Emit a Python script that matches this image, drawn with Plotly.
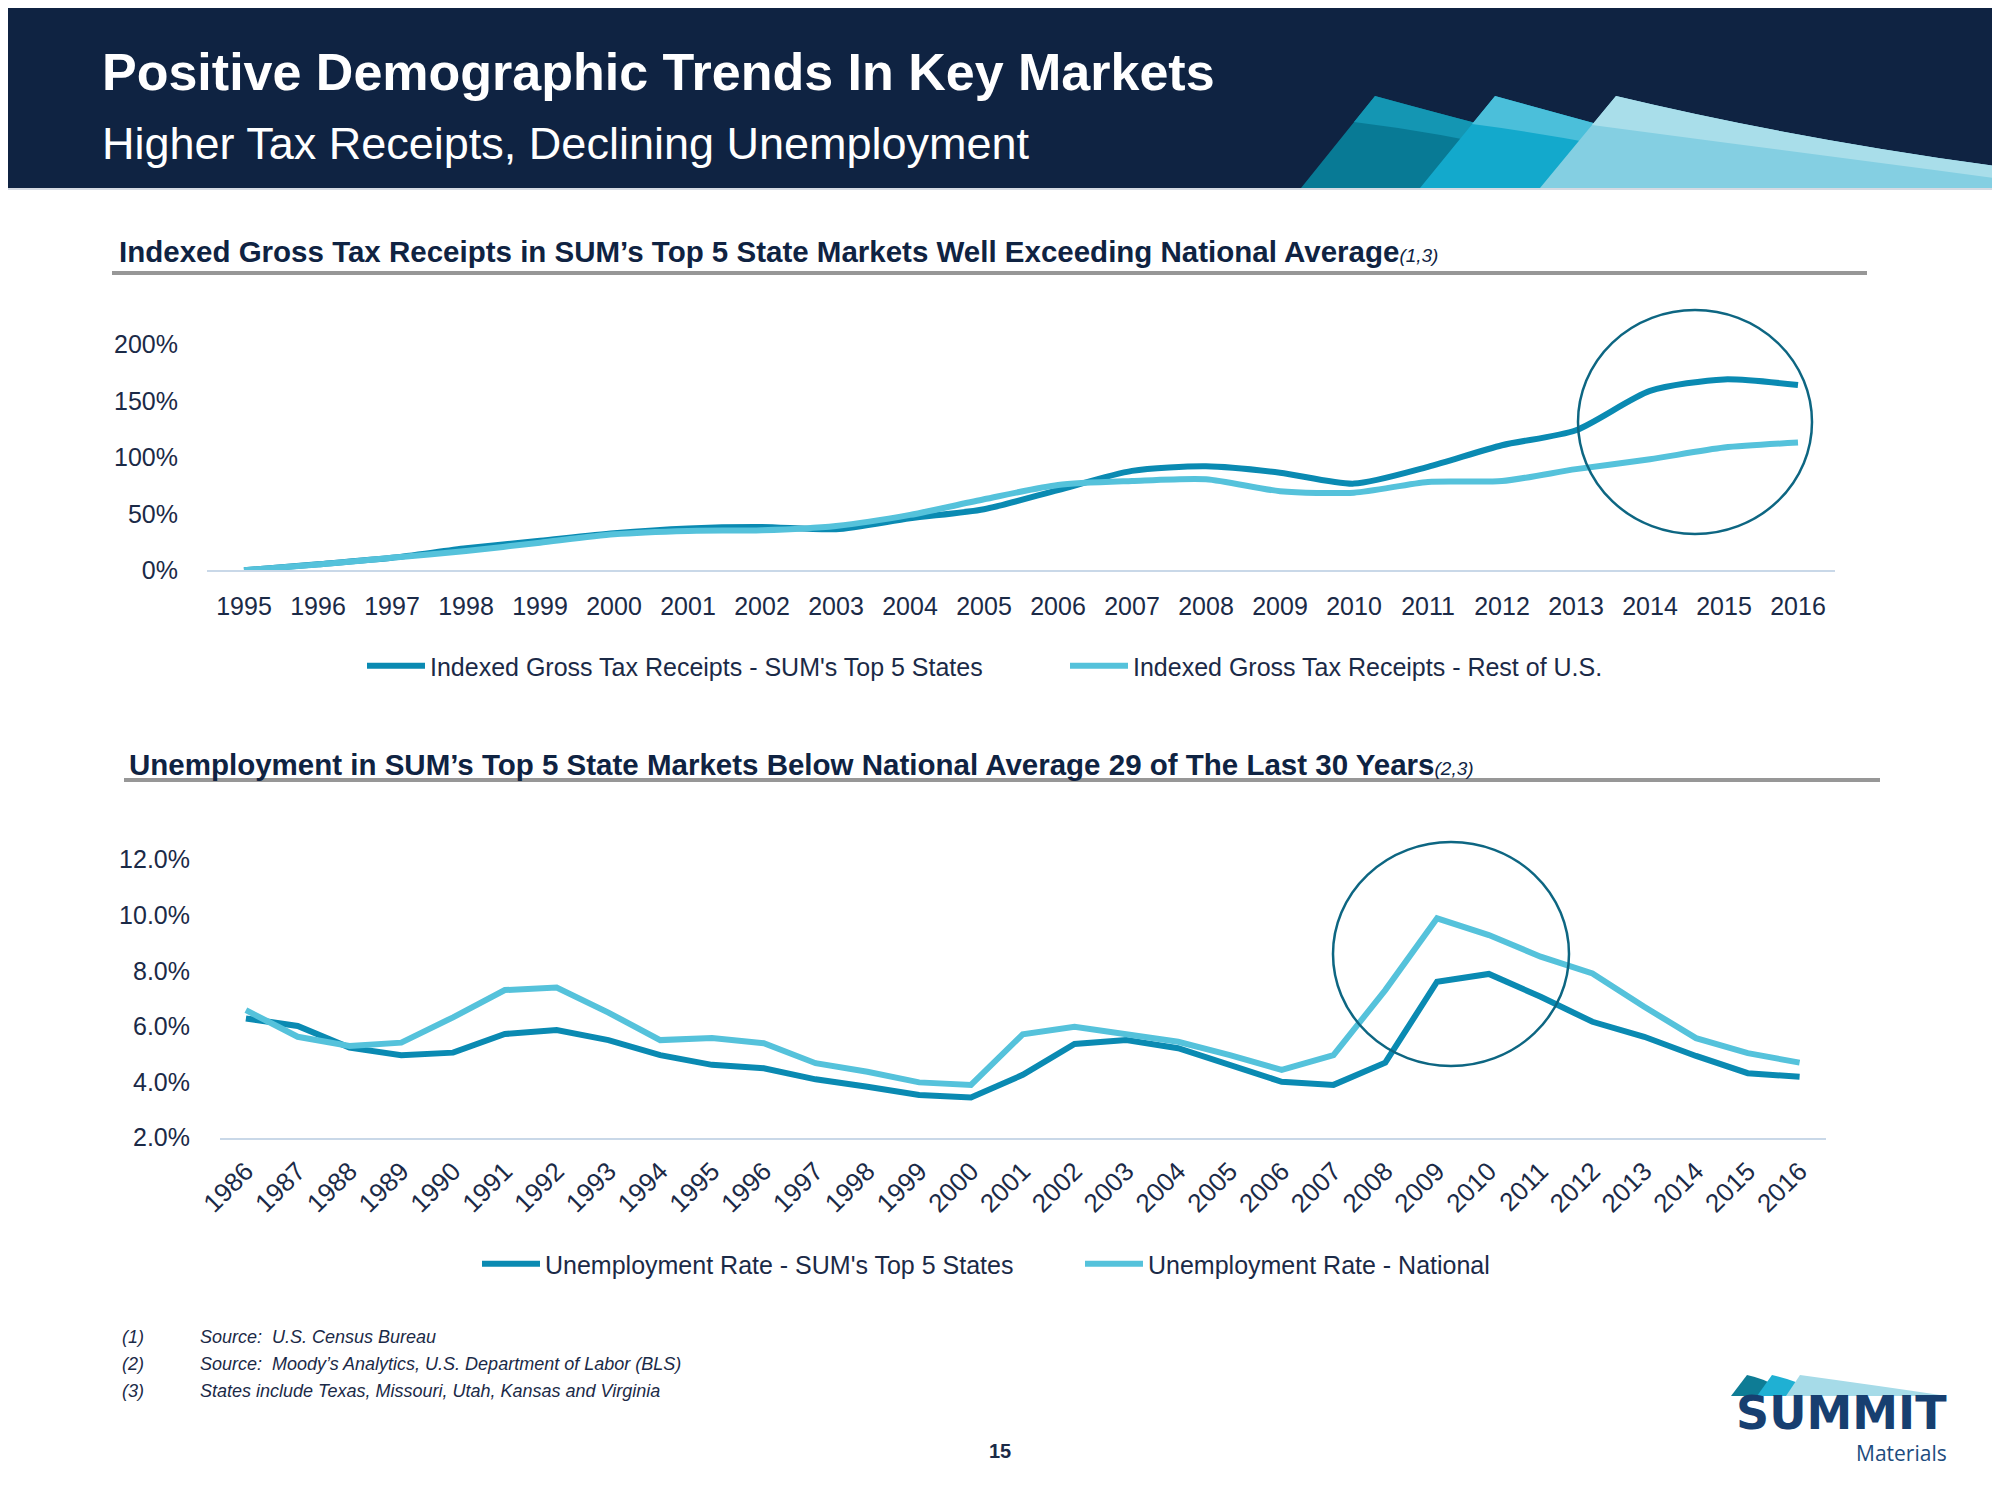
import plotly.graph_objects as go

# ---------------- data ----------------
years_tax = ["1995", "1996", "1997", "1998", "1999", "2000", "2001", "2002", "2003", "2004", "2005",
             "2006", "2007", "2008", "2009", "2010", "2011", "2012", "2013", "2014", "2015", "2016"]
tax_top5 = [0, 5.3, 11, 19.4, 26, 32.7, 37, 38.3, 36.3, 46, 54,
            71, 88, 92, 86.4, 76.7, 91.5, 110.7, 124, 158.8, 169, 164]
tax_rest = [0, 5, 11, 17, 24.4, 31.8, 34.8, 35.4, 39.2, 49, 62.8,
            75.5, 79, 80.6, 70, 68.7, 78.2, 79, 89.5, 98.3, 108.6, 113]

years_unemp = ["1986", "1987", "1988", "1989", "1990", "1991", "1992", "1993", "1994", "1995", "1996",
               "1997", "1998", "1999", "2000", "2001", "2002", "2003", "2004", "2005", "2006",
               "2007", "2008", "2009", "2010", "2011", "2012", "2013", "2014", "2015", "2016"]
unemp_top5 = [6.29, 6.02, 5.24, 4.97, 5.06, 5.73, 5.87, 5.51, 4.97, 4.62, 4.50,
              4.10, 3.83, 3.54, 3.45, 4.26, 5.37, 5.51, 5.22, 4.62, 4.01,
              3.90, 4.70, 7.61, 7.89, 7.07, 6.17, 5.63, 4.94, 4.32, 4.19]
unemp_nat = [6.59, 5.63, 5.30, 5.42, 6.33, 7.31, 7.40, 6.50, 5.51, 5.59, 5.40,
             4.68, 4.37, 3.99, 3.90, 5.72, 5.99, 5.73, 5.45, 4.97, 4.44,
             4.97, 7.31, 9.89, 9.29, 8.51, 7.91, 6.71, 5.58, 5.04, 4.70]

tax_ticks = [0, 50, 100, 150, 200]
tax_tick_text = ["0%", "50%", "100%", "150%", "200%"]
unemp_ticks = [2, 4, 6, 8, 10, 12]
unemp_tick_text = ["2.0%", "4.0%", "6.0%", "8.0%", "10.0%", "12.0%"]

# ---------------- style ----------------
OFF = 8  # page body margin offset of the figure in the browser
W, H = 2000 - OFF, 1500 - 2 * OFF
FONT = "Liberation Sans, Arial, sans-serif"
NAVY = "#0F2342"
TXT = "#1B2A47"
DARK = "#0A8AB2"
LIGHT = "#55C2DB"
RING = "#0D6682"
AXLINE = "#C9D8E8"


def px(x):
    return (x - OFF) / W


def py(y):
    return 1 - (y - OFF) / H


def path(cmds):
    out = []
    for c in cmds:
        if c[0] == "Z":
            out.append("Z")
        else:
            letter, pts = c[0], c[1:]
            out.append(letter + " ".join(f"{px(a):.5f},{py(b):.5f}" for a, b in pts))
    return " ".join(out)


fig = go.Figure()

fig.add_trace(go.Scatter(x=years_tax, y=tax_top5, mode="lines", name="Indexed Gross Tax Receipts - SUM's Top 5 States",
                         line=dict(color=DARK, width=6, shape="spline", smoothing=0.7), xaxis="x", yaxis="y",
                         legend="legend"))
fig.add_trace(go.Scatter(x=years_tax, y=tax_rest, mode="lines", name="Indexed Gross Tax Receipts - Rest of U.S.",
                         line=dict(color=LIGHT, width=6, shape="spline", smoothing=0.7), xaxis="x", yaxis="y",
                         legend="legend"))
fig.add_trace(go.Scatter(x=years_unemp, y=unemp_top5, mode="lines", name="Unemployment Rate - SUM's Top 5 States",
                         line=dict(color=DARK, width=6), xaxis="x2", yaxis="y2", legend="legend2"))
fig.add_trace(go.Scatter(x=years_unemp, y=unemp_nat, mode="lines", name="Unemployment Rate - National",
                         line=dict(color=LIGHT, width=6), xaxis="x2", yaxis="y2", legend="legend2"))

tickfont = dict(family=FONT, size=25, color=TXT)

fig.update_layout(
    width=W, height=H, margin=dict(l=0, r=0, t=0, b=0, autoexpand=False),
    paper_bgcolor="white", plot_bgcolor="rgba(0,0,0,0)",
    font=dict(family=FONT, color=TXT),
    xaxis=dict(domain=[px(207), px(1835)], anchor="y", type="category", range=[-0.5, 21.5],
               showgrid=False, zeroline=False, showline=True, linecolor=AXLINE, linewidth=2,
               ticks="", tickfont=tickfont, ticklabelstandoff=13, automargin=False, fixedrange=True),
    yaxis=dict(domain=[py(570.2), py(570.2 - 220 * 1.129)], anchor="x", range=[0, 220],
               tickvals=tax_ticks, ticktext=tax_tick_text, showgrid=False, zeroline=False, showline=False,
               ticks="", tickfont=tickfont, ticklabelstandoff=28, automargin=False, fixedrange=True),
    xaxis2=dict(domain=[px(220), px(1825.5)], anchor="y2", type="category", range=[-0.5, 30.5],
                showgrid=False, zeroline=False, showline=True, linecolor=AXLINE, linewidth=2,
                ticks="", tickangle=-45, tickfont=dict(family=FONT, size=26, color=TXT),
                ticklabelstandoff=6, automargin=False, fixedrange=True),
    yaxis2=dict(domain=[py(1137.7), py(1137.7 - 10.6 * 27.8)], anchor="x2", range=[2, 12.6],
                tickvals=unemp_ticks, ticktext=unemp_tick_text, showgrid=False, zeroline=False,
                showline=False, ticks="", tickfont=tickfont, ticklabelstandoff=29, automargin=False,
                fixedrange=True),
    legend=dict(orientation="h", x=px(362), y=py(666), xanchor="left", yanchor="middle",
                font=dict(family=FONT, size=25, color=TXT), entrywidth=630, entrywidthmode="pixels",
                itemwidth=58, bgcolor="rgba(0,0,0,0)", borderwidth=0, tracegroupgap=0),
    legend2=dict(orientation="h", x=px(477), y=py(1264), xanchor="left", yanchor="middle",
                 font=dict(family=FONT, size=25, color=TXT), entrywidth=530, entrywidthmode="pixels",
                 itemwidth=58, bgcolor="rgba(0,0,0,0)", borderwidth=0, tracegroupgap=0),
    showlegend=True,
)

shapes = []
# header band
shapes.append(dict(type="rect", xref="paper", yref="paper", x0=0, x1=1, y0=py(188), y1=1,
                   fillcolor=NAVY, line=dict(width=0), layer="below"))
shapes.append(dict(type="line", xref="paper", yref="paper", x0=0, x1=1, y0=py(189), y1=py(189),
                   line=dict(color="#D5DAE2", width=2), layer="below"))
# header sails
sails = [
    ("#087A95", [("M", (1301, 188)), ("L", (1375, 96)), ("Q", (1470, 122), (1580, 150)), ("L", (1580, 188)), ("Z",)]),
    ("#1496B3", [("M", (1354, 122)), ("L", (1375, 96)), ("Q", (1470, 122), (1580, 150)), ("L", (1580, 165)), ("Q", (1460, 135), (1354, 122)), ("Z",)]),
    ("#13A9CC", [("M", (1420, 188)), ("L", (1495, 96)), ("Q", (1600, 125), (1700, 152)), ("L", (1700, 188)), ("Z",)]),
    ("#4BBFDA", [("M", (1472, 124)), ("L", (1495, 96)), ("Q", (1600, 125), (1700, 152)), ("L", (1700, 165)), ("Q", (1580, 138), (1472, 124)), ("Z",)]),
    ("#84CFE2", [("M", (1540, 188)), ("L", (1616, 96)), ("Q", (1800, 140), (2010, 168)), ("L", (2010, 188)), ("Z",)]),
    ("#A9DEEA", [("M", (1592, 125)), ("L", (1616, 96)), ("Q", (1800, 140), (2010, 168)), ("L", (2010, 180)), ("Q", (1780, 150), (1592, 125)), ("Z",)]),
]
for col, cmds in sails:
    shapes.append(dict(type="path", xref="paper", yref="paper", path=path(cmds),
                       fillcolor=col, line=dict(width=0), layer="below"))
# section rules
shapes.append(dict(type="line", xref="paper", yref="paper", x0=px(112), x1=px(1867), y0=py(273), y1=py(273),
                   line=dict(color="#979797", width=4)))
shapes.append(dict(type="line", xref="paper", yref="paper", x0=px(124), x1=px(1880), y0=py(780), y1=py(780),
                   line=dict(color="#979797", width=4)))
# highlight ellipses
shapes.append(dict(type="circle", xref="paper", yref="paper", x0=px(1578), x1=px(1812), y0=py(534), y1=py(310),
                   line=dict(color=RING, width=2.5), layer="above"))
shapes.append(dict(type="circle", xref="paper", yref="paper", x0=px(1333), x1=px(1569), y0=py(1066), y1=py(842),
                   line=dict(color=RING, width=2.5), layer="above"))
# logo sails
logo = [
    ("#0E7C95", [("M", (1731, 1396)), ("L", (1747, 1375)), ("Q", (1765, 1379), (1775, 1386)), ("L", (1768, 1396)), ("Z",)]),
    ("#1FB0D3", [("M", (1757, 1396)), ("L", (1772, 1375)), ("Q", (1795, 1380), (1808, 1388)), ("L", (1798, 1396)), ("Z",)]),
    ("#A6DBE8", [("M", (1786, 1396)), ("L", (1800, 1375)), ("Q", (1880, 1386), (1947, 1396)), ("Z",)]),
]
for col, cmds in logo:
    shapes.append(dict(type="path", xref="paper", yref="paper", path=path(cmds),
                       fillcolor=col, line=dict(width=0), layer="below"))
fig.update_layout(shapes=shapes)

ann = []
ann.append(dict(text="<b>Positive Demographic Trends In Key Markets</b>", x=px(100), y=py(72),
                xanchor="left", yanchor="middle", font=dict(family=FONT, size=52, color="white")))
ann.append(dict(text="Higher Tax Receipts, Declining Unemployment", x=px(100), y=py(143),
                xanchor="left", yanchor="middle", font=dict(family=FONT, size=45, color="white")))
ann.append(dict(text="<b>Indexed Gross Tax Receipts in SUM’s Top 5 State Markets Well Exceeding National Average</b>"
                     "<span style='font-size:19px'><i>(1,3)</i></span>",
                x=px(117), y=py(252), xanchor="left", yanchor="middle", font=dict(family=FONT, size=29.5, color=NAVY)))
ann.append(dict(text="<b>Unemployment in SUM’s Top 5 State Markets Below National Average 29 of The Last 30 Years</b>"
                     "<span style='font-size:19px'><i>(2,3)</i></span>",
                x=px(127), y=py(764), xanchor="left", yanchor="middle", font=dict(family=FONT, size=29.5, color=NAVY)))
notes = [("(1)", "Source:  U.S. Census Bureau", 1337),
         ("(2)", "Source:  Moody’s Analytics, U.S. Department of Labor (BLS)", 1364),
         ("(3)", "States include Texas, Missouri, Utah, Kansas and Virginia", 1391)]
for n, t, yy in notes:
    ann.append(dict(text=f"<i>{n}</i>", x=px(120), y=py(yy), xanchor="left", yanchor="middle",
                    font=dict(family=FONT, size=18, color=TXT)))
    ann.append(dict(text=f"<i>{t}</i>", x=px(198), y=py(yy), xanchor="left", yanchor="middle",
                    font=dict(family=FONT, size=18, color=TXT)))
ann.append(dict(text="<b>15</b>", x=px(1000), y=py(1451), xanchor="center", yanchor="middle",
                font=dict(family=FONT, size=20, color=TXT)))
ann.append(dict(text="<b>SUMMIT</b>", x=px(1949), y=py(1442), xanchor="right", yanchor="bottom",
                font=dict(family="DejaVu Sans, sans-serif", size=46, color="#173F70")))
ann.append(dict(text="Materials", x=px(1949), y=py(1437), xanchor="right", yanchor="top",
                font=dict(family="Open Sans, sans-serif", size=21, color="#1D4C7E")))
for a in ann:
    a.update(xref="paper", yref="paper", showarrow=False)
fig.update_layout(annotations=ann)

fig.write_html("out.html")
